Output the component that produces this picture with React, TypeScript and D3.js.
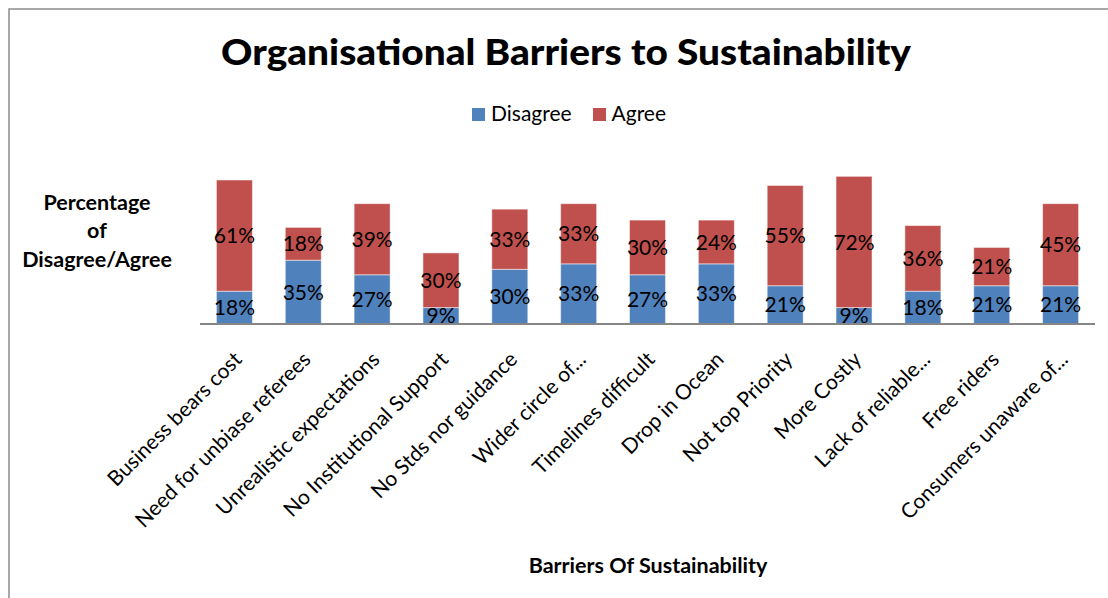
import React from "react";
import * as d3 from "d3";

const categories = [
  "Business bears cost",
  "Need for unbiase referees",
  "Unrealistic expectations",
  "No Institutional Support",
  "No Stds nor guidance",
  "Wider circle of...",
  "Timelines difficult",
  "Drop in Ocean",
  "Not top Priority",
  "More Costly",
  "Lack of reliable...",
  "Free riders",
  "Consumers unaware of...",
];
const disagree = [18, 35, 27, 9, 30, 33, 27, 33, 21, 9, 18, 21, 21];
const agree = [61, 18, 39, 30, 33, 33, 30, 24, 55, 72, 36, 21, 45];
const seriesNames = ["Disagree", "Agree"];
const seriesColors = ["#4F81BD", "#C0504D"];

const W = 1108;
const H = 598;
const FONT = "Lato, 'Open Sans', sans-serif";

export default function App() {
  const x = d3
    .scaleBand<string>()
    .domain(categories)
    .range([200, 1095])
    .paddingInner(0.477)
    .paddingOuter(0.2385);
  const y = d3.scaleLinear().domain([0, 100]).range([324, 141.7]);

  const rows = categories.map((c, i) => ({ cat: c, Disagree: disagree[i], Agree: agree[i] }));
  const stacked = d3.stack<any>().keys(seriesNames)(rows);

  return (
    <svg
      width={W}
      height={H}
      style={{ position: "absolute", left: 0, top: 0, background: "#fff" }}
      fontFamily={FONT}
    >
      <rect x={9} y={9} width={1300} height={800} fill="#fff" stroke="#8c8c8c" strokeWidth={1.5} />
      <text
        x={566}
        y={65}
        textAnchor="middle"
        fontSize={36}
        fontWeight={900}
        textLength={690}
        lengthAdjust="spacingAndGlyphs"
        fill="#000"
      >
        Organisational Barriers to Sustainability
      </text>

      {/* legend */}
      <g>
        <rect x={472} y={108} width={13} height={13} fill={seriesColors[0]} />
        <text x={491} y={121} fontSize={21} fill="#000">{seriesNames[0]}</text>
        <rect x={593} y={108} width={13} height={13} fill={seriesColors[1]} />
        <text x={611.5} y={121} fontSize={21} fill="#000">{seriesNames[1]}</text>
      </g>

      {/* y axis title */}
      <g fontWeight="bold" fontSize={21.5} textAnchor="middle" fill="#000">
        <text x={97} y={210}>Percentage</text>
        <text x={97} y={238}>of</text>
        <text x={97} y={266.5}>Disagree/Agree</text>
      </g>

      {/* bars */}
      {stacked.map((s, si) => (
        <g key={s.key} fill={seriesColors[si]}>
          {s.map((d: any, i: number) => (
            <rect
              key={i}
              x={x(categories[i])}
              y={y(d[1])}
              width={x.bandwidth()}
              height={y(d[0]) - y(d[1])}
              stroke="#ffffff"
              strokeOpacity={0.5}
              strokeWidth={1}
            />
          ))}
        </g>
      ))}

      {/* value labels */}
      {stacked.map((s, si) => (
        <g key={"l" + s.key} fontSize={21} textAnchor="middle" fill="#000">
          {s.map((d: any, i: number) => (
            <text
              key={i}
              x={(x(categories[i]) as number) + x.bandwidth() / 2}
              y={(y(d[0]) + y(d[1])) / 2}
              dy="0.36em"
            >
              {`${d[1] - d[0]}%`}
            </text>
          ))}
        </g>
      ))}

      {/* x axis line */}
      <line x1={200} x2={1095} y1={324} y2={324} stroke="#868686" strokeWidth={2} />

      {/* category labels */}
      {categories.map((c, i) => {
        const cx = (x(c) as number) + x.bandwidth() / 2 - 2;
        return (
          <text
            key={c}
            transform={`translate(${cx},350) rotate(-45)`}
            textAnchor="end"
            dy="0.72em"
            fontSize={21}
            fill="#000"
          >
            {c}
          </text>
        );
      })}

      <text x={648} y={573} textAnchor="middle" fontSize={21.5} fontWeight="bold" fill="#000">
        Barriers Of Sustainability
      </text>
    </svg>
  );
}
